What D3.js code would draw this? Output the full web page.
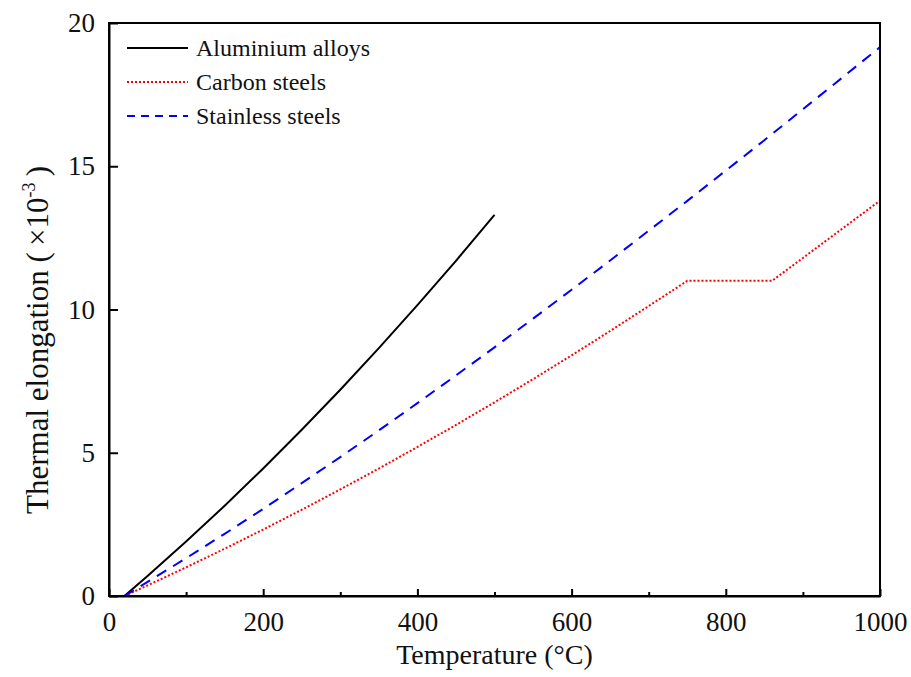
<!DOCTYPE html>
<html lang="en">
<head>
    <title>Thermal elongation</title>
    <script src="https://d3js.org/d3.v7.min.js"></script>
    <style>
        body{
            margin: 0;
            background: #fff;
        }
        svg text{
            font-family: "Liberation Serif", "Times New Roman", Times, serif !important;
            fill: #111;
        }
        .tick text{
            font-size: 27px;
        }
        .axis-title{
            font-size: 28px;
        }
        .legend text{
            font-size: 24px;
        }
    </style>
</head>
<body>
    <div id="chart"></div>

    <script>

    // temperatures (°C) and thermal elongation (x10^-3)
    var aluTemp   = [20, 50, 100, 150, 200, 250, 300, 350, 400, 450, 500]
    var aluElong  = [0.00, 0.70, 1.90, 3.15, 4.45, 5.80, 7.20, 8.65, 10.15, 11.70, 13.30]

    var carbonTemp  = [20, 50, 100, 150, 200, 250, 300, 350, 400, 450, 500, 550, 600, 650, 700, 750, 860, 900, 1000]
    var carbonElong = [0.00, 0.37, 1.00, 1.65, 2.32, 3.01, 3.72, 4.45, 5.20, 5.97, 6.76, 7.57, 8.40, 9.25, 10.12, 11.00, 11.00, 11.80, 13.80]

    var stainTemp  = [20, 50, 100, 150, 200, 250, 300, 350, 400, 450, 500, 550, 600, 650, 700, 750, 800, 850, 900, 950, 1000]
    var stainElong = [0.00, 0.49, 1.32, 2.17, 3.04, 3.94, 4.85, 5.78, 6.73, 7.70, 8.68, 9.68, 10.69, 11.71, 12.75, 13.79, 14.85, 15.91, 16.99, 18.07, 19.16]

    var xTicks = [0, 200, 400, 600, 800, 1000]
    var xMinorTicks = [100, 300, 500, 700, 900]
    var yTicks = [0, 5, 10, 15, 20]

    var seriesNames = ["Aluminium alloys", "Carbon steels", "Stainless steels"]

    // dimensions
    var width = 911
    var height = 677
    var margin = {top: 23, right: 31, bottom: 81, left: 109}
    var innerW = width - margin.left - margin.right
    var innerH = height - margin.top - margin.bottom

    var svg = d3.select("#chart")
      .append("svg")
        .attr("width", width)
        .attr("height", height)
        .attr("font-family", "Liberation Serif, serif")

    var g = svg.append("g")
        .attr("transform", "translate(" + margin.left + "," + margin.top + ")")

    var x = d3.scaleLinear().domain([0, 1000]).range([0, innerW])
    var y = d3.scaleLinear().domain([0, 20]).range([innerH, 0])

    var series = [
        {name: seriesNames[0], temp: aluTemp, val: aluElong, color: "#000", dash: null, legendDash: null},
        {name: seriesNames[1], temp: carbonTemp, val: carbonElong, color: "#ff0000", dash: "2,2", legendDash: "2,2"},
        {name: seriesNames[2], temp: stainTemp, val: stainElong, color: "#0000ff", dash: "11,8", legendDash: "8,6"}
    ]

    var line = d3.line()
        .x(d => x(d[0]))
        .y(d => y(d[1]))

    // curves
    g.selectAll("path.series")
      .data(series)
      .enter()
      .append("path")
        .attr("class", "series")
        .attr("d", d => line(d.temp.map((t, i) => [t, d.val[i]])))
        .attr("fill", "none")
        .attr("stroke", d => d.color)
        .attr("stroke-width", 2)
        .attr("stroke-dasharray", d => d.dash)

    // x axis with inward ticks
    var xAxis = g.append("g")
        .attr("transform", "translate(0," + innerH + ")")
        .call(d3.axisBottom(x).tickValues(xTicks).tickFormat(d3.format("d"))
            .tickSizeInner(-7).tickSizeOuter(0).tickPadding(16))
    xAxis.selectAll(".tick text").attr("dy", "0.71em")

    g.append("g")
        .attr("transform", "translate(0," + innerH + ")")
        .call(d3.axisBottom(x).tickValues(xMinorTicks).tickSizeInner(-4).tickSizeOuter(0).tickFormat(""))
        .select(".domain").remove()

    // y axis with inward ticks
    g.append("g")
        .call(d3.axisLeft(y).tickValues(yTicks).tickFormat(d3.format("d"))
            .tickSizeInner(-9).tickSizeOuter(0).tickPadding(14))

    g.selectAll("g").attr("font-family", null)

    g.selectAll(".domain, .tick line")
        .attr("stroke", "#000")
        .attr("stroke-width", 2)

    // frame
    g.append("rect")
        .attr("width", innerW)
        .attr("height", innerH)
        .attr("fill", "none")
        .attr("stroke", "#000")
        .attr("stroke-width", 2)

    // axis titles
    svg.append("text")
        .attr("class", "axis-title")
        .attr("x", margin.left + innerW / 2)
        .attr("y", 664)
        .attr("text-anchor", "middle")
        .text("Temperature (\u00b0C)")

    var yTitle = svg.append("text")
        .attr("class", "axis-title")
        .style("font-size", "31px")
        .attr("transform", "translate(48,340) rotate(-90)")
        .attr("text-anchor", "middle")
    yTitle.append("tspan").text("Thermal elongation (\u2009\u00d710")
    yTitle.append("tspan").style("font-size", "18px").attr("dy", "-13").text("-3")
    yTitle.append("tspan").attr("dy", "13").text("\u2009)")

    // legend
    var legend = svg.append("g")
        .attr("class", "legend")
        .attr("transform", "translate(127,48)")

    var row = legend.selectAll("g")
      .data(series)
      .enter()
      .append("g")
        .attr("transform", (d, i) => "translate(0," + i * 34 + ")")

    row.append("line")
        .attr("x1", 0)
        .attr("x2", 61)
        .attr("stroke", d => d.color)
        .attr("stroke-width", 2)
        .attr("stroke-dasharray", d => d.legendDash)

    row.append("text")
        .attr("x", 69)
        .attr("dy", "0.33em")
        .text(d => d.name)

    </script>
</body>
</html>
